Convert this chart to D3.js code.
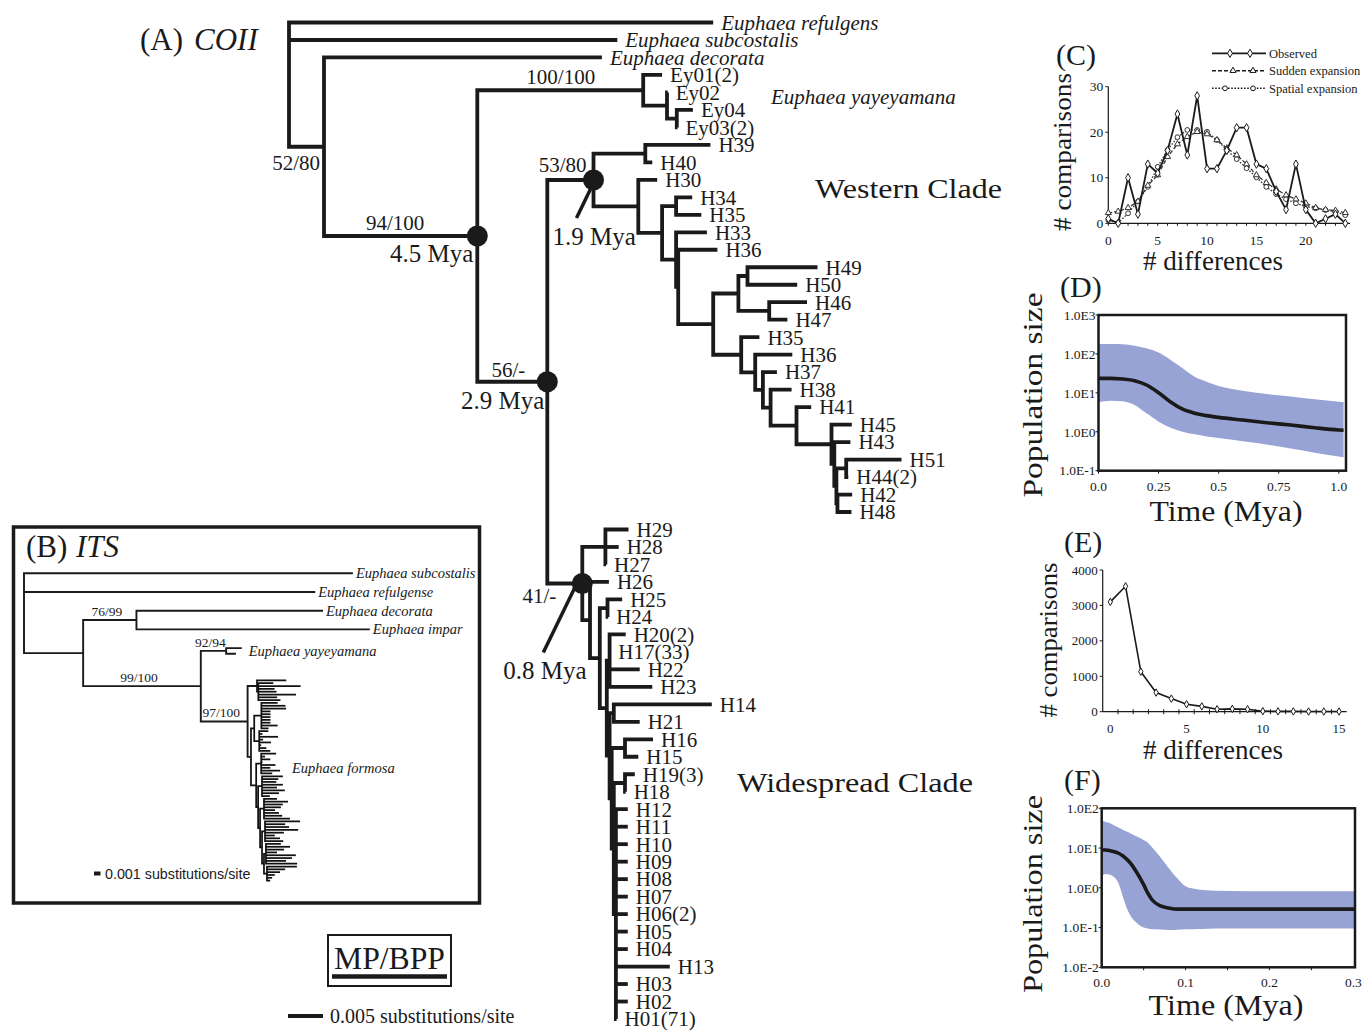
<!DOCTYPE html>
<html>
<head>
<meta charset="utf-8">
<script src="https://d3js.org/d3.v7.min.js"></script>
<style>
  body { margin: 0; background: #fff; }
  svg { display: block; font-family: "Liberation Serif", "Times New Roman", serif; }
</style>
</head>
<body>
<svg id="fig" width="1362" height="1031"></svg>
<script>
// ---------- data ----------
// (A) COII tree, branch lengths in 10^-3 substitutions/site
const coiiEy = "('Ey01(2)':2.7,(Ey02:0.1,(Ey04:2.3,'Ey03(2)':0.1):1.4):3.4)Ey:23.7";
const coiiBig = "(((H49:10.0,H50:7.1):1.3,(H46:5.4,H47:2.6):4.4):3.6,(H35:2.6,(H36:5.3,(H37:2.0,(H38:3.0,(H41:2.1,(H45:2.9,(H43:2.3,((H51:7.9,'H44(2)':0.3):1.4,(H42:2.1,H48:2.0):0.15):0.3):0.4):5.0):3.7):1.1):1.1):2.0):4.0)";
const coiiWestern = "((H39:9.3,H40:1.0):7.4,(H30:2.7,((H34:2.3,H35:3.6):2.0,(H33:4.4,(H36:5.6," + coiiBig + ":5.0):0.3):2.0):3.4):6.4)W:6.6";
const coiiWide = "((H29:3.3,H28:1.9,H27:0.1):3.3,(H26:2.7,((H25:2.1,H24:0.1):1.1,(('H20(2)':2.3,'H17(33)':0.1,H22:4.3,H23:6.1):0.4,((H14:14.0,H21:3.7):0.6,((H16:4.0,H15:1.9):1.9,(('H19(3)':1.4,H18:0.1):1.6,(H12:1.7,H11:1.7,H10:1.7,H09:1.7,H08:1.7,H07:1.7,'H06(2)':1.7,H05:1.7,H04:1.7,H13:7.7,H03:1.7,H02:1.7,'H01(71)':0.1):0.3):0.3):0.3):0.4):1.0):1.4):1.1)N0:5.0";
const coiiNewick = "(Euphaea_refulgens:60.6,Euphaea_subcostalis:46.9,(Euphaea_decorata:39.7,(" +
  coiiEy + ",(" + coiiWestern + "," + coiiWide + ")M:10.0)B:21.9)A:5.0);";
const coiiSupport = [["A", "52/80"], ["B", "94/100"], ["Ey", "100/100"], ["W", "53/80"], ["M", "56/-"], ["N0", "41/-"]];
const coiiAges = [["B", "4.5 Mya"], ["M", "2.9 Mya"], ["W", "1.9 Mya"], ["N0", "0.8 Mya"]];

// (B) ITS tree, branch lengths in 10^-3 substitutions/site
const itsFormosaGroups = [
  [4.5],
  [2.3, 6.5, 2.5, 2.8, 5.8, 2.9, 3.4],
  [2.5, 3.7, 3.8, 1.4, 1.4, 1.4, 1.4, 1.4, 2.5, 1.1],
  [1.4, 0.5, 2.9, 0.6, 1.8, 0.3, 1.1, 1.7],
  [2.3, 0.6, 1.4, 0.2, 2.2, 1.4, 2.9, 1.7],
  [3.2, 2.5, 2.2, 3.2, 2.3, 3.5, 2.6, 1.2],
  [2.0, 3.7, 2.9, 2.6, 1.7, 2.3, 2.8, 4.0],
  [5.4, 3.1, 3.7, 5.1, 2.9, 1.5, 2.3, 2.8],
  [2.3, 3.7, 2.8, 1.7, 4.6, 4.0, 3.1, 4.8],
  [4.6, 2.8, 2.0, 1.2, 0.8, 0.5]
];
const itsSupport = [["D", "76/99"], ["F", "92/94"], ["E", "99/100"], ["G", "97/100"]];

// (C) mismatch distribution, COII
const cDiff = d3.range(0, 25);
const cObserved = [1, 0, 10, 2, 13, 11, 16, 24, 15, 28, 12, 12, 16, 21, 21, 13, 12, 7, 3, 13, 3, 0, 1, 2, 0];
const cSudden = [2.3, 2.6, 3.4, 4.8, 8.3, 10.6, 14.6, 17.4, 19.0, 20.1, 19.6, 18.3, 16.5, 15.0, 13.0, 10.6, 8.9, 7.5, 6.2, 5.3, 4.4, 3.4, 3.0, 2.8, 2.3];
const cSpatial = [0.7, 0.1, 2.2, 4.8, 8.0, 12.4, 16.1, 18.9, 20.5, 20.5, 20.1, 18.3, 16.1, 14.1, 12.1, 10.1, 8.0, 6.4, 5.3, 4.4, 3.7, 3.3, 2.9, 2.6, 1.8];
const cYTicks = [0, 10, 20, 30];
const cXTicks = [0, 5, 10, 15, 20];

// (D) skyline, COII
const dTime = [0, 0.05, 0.1, 0.15, 0.2, 0.25, 0.3, 0.35, 0.4, 0.45, 0.5, 0.6, 0.7, 0.8, 0.9, 1.0, 1.02];
const dUpper = [180, 180, 176, 163, 139, 108, 70, 43, 26, 19.4, 15.0, 11.4, 9.3, 8.0, 6.8, 5.9, 5.8];
const dMedian = [23.6, 23.6, 22.6, 20.6, 15.9, 10.1, 5.8, 3.8, 3.0, 2.6, 2.34, 2.0, 1.71, 1.49, 1.27, 1.11, 1.09];
const dLower = [5.7, 6.3, 6.05, 4.86, 2.97, 1.82, 1.27, 1.0, 0.86, 0.76, 0.69, 0.57, 0.47, 0.37, 0.29, 0.23, 0.22];
const dYTicks = [1000, 100, 10, 1, 0.1];
const dYLabels = ["1.0E3", "1.0E2", "1.0E1", "1.0E0", "1.0E-1"];
const dXTicks = [0, 0.25, 0.5, 0.75, 1.0];
const dXLabels = ["0.0", "0.25", "0.5", "0.75", "1.0"];

// (E) mismatch distribution, ITS
const eDiff = d3.range(0, 16);
const eCounts = [3100, 3540, 1130, 540, 370, 210, 150, 70, 80, 70, 15, 10, 8, 5, 5, 5];
const eYTicks = [0, 1000, 2000, 3000, 4000];
const eXTicks = [0, 5, 10, 15];

// (F) skyline, ITS
const fTime = [0, 0.005, 0.01, 0.015, 0.02, 0.025, 0.03, 0.035, 0.04, 0.05, 0.055, 0.06, 0.07, 0.08, 0.09, 0.1, 0.11, 0.12, 0.15, 0.2, 0.25, 0.3, 0.302];
const fUpper = [49, 45, 42, 37, 33, 29, 26, 23, 20.5, 16, 13.5, 10.4, 5.9, 3.1, 1.75, 1.1, 0.95, 0.88, 0.83, 0.82, 0.82, 0.82, 0.82];
const fMedian = [8.9, 8.9, 8.6, 8.1, 7.4, 6.4, 5.2, 4.0, 2.8, 1.2, 0.73, 0.5, 0.35, 0.31, 0.29, 0.29, 0.29, 0.29, 0.29, 0.29, 0.29, 0.29, 0.29];
const fLower = [2.0, 2.23, 2.14, 1.84, 1.3, 0.62, 0.305, 0.188, 0.141, 0.1, 0.095, 0.09, 0.089, 0.087, 0.088, 0.09, 0.091, 0.092, 0.094, 0.094, 0.094, 0.094, 0.094];
const fYTicks = [100, 10, 1, 0.1, 0.01];
const fYLabels = ["1.0E2", "1.0E1", "1.0E0", "1.0E-1", "1.0E-2"];
const fXTicks = [0, 0.1, 0.2, 0.3];
const fXLabels = ["0.0", "0.1", "0.2", "0.3"];

// ---------- helpers ----------
const svg = d3.select('#fig');
const INK = '#1a1a1a';
const BAND = '#97a3d4';

function txt(g, x, y, s, o = {}) {
  const t = g.append('text').attr('x', x).attr('y', y).text(s)
    .attr('fill', INK).attr('font-size', o.size || 21);
  if (o.anchor) t.attr('text-anchor', o.anchor);
  if (o.dy) t.attr('dy', o.dy);
  if (o.italic) t.attr('font-style', 'italic');
  if (o.family) t.attr('font-family', o.family);
  if (o.len) t.attr('textLength', o.len).attr('lengthAdjust', 'spacingAndGlyphs');
  if (o.rot) t.attr('transform', `rotate(-90,${x},${y})`);
  return t;
}

function parseNewick(s) {
  let i = 0;
  function node() {
    const n = {};
    if (s[i] === '(') {
      i++;
      n.children = [];
      n.children.push(node());
      while (s[i] === ',') { i++; n.children.push(node()); }
      i++;
    }
    let name = '';
    if (s[i] === "'") { i++; while (s[i] !== "'") name += s[i++]; i++; }
    else while (i < s.length && !',):;'.includes(s[i])) name += s[i++];
    n.name = name;
    if (s[i] === ':') {
      i++;
      let num = '';
      while (i < s.length && !',);'.includes(s[i])) num += s[i++];
      n.length = +num;
    }
    return n;
  }
  return node();
}

function place(root, xs, leafY) {
  root.eachBefore(d => {
    d.dist = d.parent ? d.parent.dist + (d.data.length || 0) : 0;
    d.px = xs(d.dist);
  });
  let prev = null;
  root.leaves().forEach((d, i) => { d.py = leafY(d, i, prev); prev = d; });
  root.eachAfter(d => {
    if (d.children) d.py = (d.children[0].py + d.children[d.children.length - 1].py) / 2;
  });
}

function elbows(root) {
  const segs = [];
  root.each(d => {
    if (!d.children) return;
    const f = d.children[0], l = d.children[d.children.length - 1];
    segs.push({ node: d, d: `M${f.px},${f.py}H${d.px}V${l.py}H${l.px}` });
    d.children.slice(1, -1).forEach(c => segs.push({ node: d, d: `M${d.px},${c.py}H${c.px}` }));
  });
  return segs;
}

const find = (root, n) => root.descendants().find(d => d.data.name === n);

// ---------- (A) COII tree ----------
const gA = svg.append('g');
const coii = d3.hierarchy(parseNewick(coiiNewick));
const coiiX = d3.scaleLinear().domain([0, 5]).range([289, 324]);
const coiiY = d3.scaleLinear().domain([0, 57]).range([22.5, 1019]);
place(coii, coiiX, (d, i) => coiiY(i));

gA.selectAll('path.br').data(elbows(coii)).join('path')
  .attr('class', 'br').attr('d', d => d.d)
  .attr('fill', 'none').attr('stroke', INK).attr('stroke-width', 3.8)
  .attr('stroke-linejoin', 'miter');

coii.leaves().forEach(d => {
  const name = d.data.name.replace(/_/g, ' ');
  txt(gA, d.px + 8, d.py, name, { size: 21, dy: '0.35em', italic: name.startsWith('Euphaea') });
});

const supportPos = { A: ['end', -4, 23], B: ['end', -53, -6], Ey: ['end', -48, -6], W: ['end', -7, -8], M: ['end', -22, -5], N0: ['end', -26, 19] };
coiiSupport.forEach(([n, s]) => {
  const d = find(coii, n), p = supportPos[n];
  txt(gA, d.px + p[1], d.py + p[2], s, { size: 21, anchor: p[0] });
});

const agePos = { B: ['end', -4, 26], M: ['end', -3, 27], W: ['start', -41, 65], N0: ['start', -79, 95] };
const ageLeader = { W: [-2, 7, -17, 38], N0: [-5, -1, -39, 69] };
coiiAges.forEach(([n, s]) => {
  const d = find(coii, n), p = agePos[n];
  gA.append('circle').attr('cx', d.px).attr('cy', d.py).attr('r', 10.5).attr('fill', INK);
  if (ageLeader[n]) {
    const l = ageLeader[n];
    gA.append('line').attr('x1', d.px + l[0]).attr('y1', d.py + l[1])
      .attr('x2', d.px + l[2]).attr('y2', d.py + l[3])
      .attr('stroke', INK).attr('stroke-width', 3.5);
  }
  txt(gA, d.px + p[1], d.py + p[2], s, { size: 25, anchor: p[0] });
});

txt(gA, 140, 50, '(A)', { size: 31 });
txt(gA, 194, 50, 'COII', { size: 31, italic: true });
txt(gA, 771, 104, 'Euphaea yayeyamana', { size: 21, italic: true });
txt(gA, 815, 198, 'Western Clade', { size: 28, len: 187 });
txt(gA, 737, 792, 'Widespread Clade', { size: 28, len: 236 });

// MP/BPP key and scale bar
gA.append('rect').attr('x', 328).attr('y', 935).attr('width', 123).attr('height', 51)
  .attr('fill', 'none').attr('stroke', INK).attr('stroke-width', 2);
txt(gA, 334, 969, 'MP/BPP', { size: 32, len: 111 });
gA.append('line').attr('x1', 332).attr('x2', 447).attr('y1', 976.5).attr('y2', 976.5)
  .attr('stroke', INK).attr('stroke-width', 4.5);
gA.append('line').attr('x1', 288).attr('x2', 288 + coiiX(5) - coiiX(0)).attr('y1', 1016).attr('y2', 1016)
  .attr('stroke', INK).attr('stroke-width', 4);
txt(gA, 330, 1023, '0.005 substitutions/site', { size: 20 });

// ---------- (B) ITS tree ----------
const gB = svg.append('g');
gB.append('rect').attr('x', 13.5).attr('y', 527).attr('width', 466).attr('height', 376)
  .attr('fill', 'none').attr('stroke', INK).attr('stroke-width', 3.5);
txt(gB, 26, 557, '(B)', { size: 31 });
txt(gB, 76, 557, 'ITS', { size: 31, italic: true });

const grp = a => '(' + a.map(v => ':' + v).join(',') + ')';
const [t1, g1x, g1b, g2a, g3a, g4a, g5a, g5b, g6, g7] = itsFormosaGroups;
const itsFormosa = `((:${t1[0]},${grp(g1x)}:0.2):1.45,((${grp(g1b)}:1.1,${grp(g2a)}:0.77):0.5,(${grp(g3a)}:0.77,(${grp(g4a)}:0.6,(${grp(g5a)}:0.6,(${grp(g5b)}:0.46,(${grp(g6)}:0.3,${grp(g7)}:0.46):0.3):0.3):0.3):0.3):0.8):0.52)G`;
const itsNewick = "(Euphaea_subcostalis:50.6,Euphaea_refulgense:44.8,((Euphaea_decorata:28.7,Euphaea_impar:35.9)D:8.2,((:2.4,:1.5)F:3.9," +
  itsFormosa + ":7.2)E:18.1)C:9.1);";

const its = d3.hierarchy(parseNewick(itsNewick));
const itsX = d3.scaleLinear().domain([0, 1]).range([24, 30.5]);
const nG = find(its, 'G'), nF = find(its, 'F');
nG.leaves().forEach(d => d.grp = 'formosa');
nF.leaves().forEach(d => d.grp = 'yay');
nG.descendants().forEach(d => { if (d !== nG) d.fm = true; });
const gapY = (p, d) => d.grp === 'formosa' ? (p.grp === 'formosa' ? 2.82 : 26.7)
  : (d.grp === 'yay' && p.grp === 'yay' ? 5.6 : 18.7);
place(its, itsX, (d, i, p) => p ? p.py + gapY(p, d) : 573.3);

gB.selectAll('path.br').data(elbows(its)).join('path')
  .attr('class', 'br').attr('d', d => d.d)
  .attr('fill', 'none').attr('stroke', d => d.node.fm ? '#111' : INK)
  .attr('stroke-width', d => d.node.fm ? 1.75 : 1.9);

its.leaves().filter(d => d.data.name).forEach(d => {
  txt(gB, d.px + 3, d.py, d.data.name.replace(/_/g, ' '), { size: 14.5, dy: '0.35em', italic: true });
});
itsSupport.forEach(([n, s]) => {
  const d = find(its, n);
  txt(gB, (d.parent.px + d.px) / 2 - 3, d.py - 4, s, { size: 13.5, anchor: 'middle' });
});
txt(gB, d3.max(nF.leaves(), d => d.px) + 7, nF.py, 'Euphaea yayeyamana', { size: 14.5, dy: '0.35em', italic: true });
txt(gB, 292, 773, 'Euphaea formosa', { size: 14.5, italic: true });
gB.append('line').attr('x1', 94).attr('x2', 94 + itsX(1) - itsX(0)).attr('y1', 873.5).attr('y2', 873.5)
  .attr('stroke', INK).attr('stroke-width', 4);
txt(gB, 105, 873.5, '0.001 substitutions/site', { size: 14.3, dy: '0.35em', family: '"Liberation Sans", Arial, sans-serif' });

// ---------- (C) mismatch COII ----------
const gC = svg.append('g');
const cx = d3.scaleLinear().domain([0, 24]).range([1108.3, 1345.3]);
const cy = d3.scaleLinear().domain([0, 30]).range([223.3, 86.7]);
gC.append('line').attr('x1', cx(0)).attr('x2', 1350).attr('y1', cy(0)).attr('y2', cy(0)).attr('stroke', INK).attr('stroke-width', 1.2);
gC.append('line').attr('x1', cx(0)).attr('x2', cx(0)).attr('y1', cy(0)).attr('y2', cy(30)).attr('stroke', INK).attr('stroke-width', 1.2);
cYTicks.forEach(v => {
  gC.append('line').attr('x1', cx(0) - 3).attr('x2', cx(0)).attr('y1', cy(v)).attr('y2', cy(v)).attr('stroke', INK);
  txt(gC, cx(0) - 5, cy(v), v, { size: 13.5, anchor: 'end', dy: '0.35em' });
});
cDiff.forEach(v => gC.append('line').attr('x1', cx(v)).attr('x2', cx(v)).attr('y1', cy(0)).attr('y2', cy(0) + 2.5).attr('stroke', INK));
cXTicks.forEach(v => txt(gC, cx(v), 245, v, { size: 13.5, anchor: 'middle' }));

const cSeries = [
  { vals: cSpatial, dash: '1.6,1.6', w: 1.3, sym: 'circle', color: '#333' },
  { vals: cSudden, dash: '4,2', w: 1.3, sym: 'triangle', color: '#333' },
  { vals: cObserved, dash: null, w: 1.8, sym: 'diamond', color: INK }
];
const symPath = { circle: d3.symbol(d3.symbolCircle, 18)(), triangle: d3.symbol(d3.symbolTriangle, 16)(), diamond: d3.symbol(d3.symbolDiamond, 20)() };
cSeries.forEach(s => {
  gC.append('path').datum(s.vals)
    .attr('d', d3.line().x((v, i) => cx(cDiff[i])).y(v => cy(v)))
    .attr('fill', 'none').attr('stroke', s.color).attr('stroke-width', s.w)
    .attr('stroke-dasharray', s.dash);
  gC.selectAll(null).data(s.vals).join('path')
    .attr('d', symPath[s.sym])
    .attr('transform', (v, i) => `translate(${cx(cDiff[i])},${cy(v)})`)
    .attr('fill', '#fff').attr('stroke', s.color).attr('stroke-width', 1);
});
const cLegend = [
  { label: 'Observed', y: 53.3, dash: null, w: 1.8, sym: 'diamond', at: [1230, 1250] },
  { label: 'Sudden expansion', y: 70.7, dash: '4,2', w: 1.5, sym: 'triangle', at: [1233, 1253] },
  { label: 'Spatial expansion', y: 88.3, dash: '1.6,1.6', w: 1.5, sym: 'circle', at: [1225, 1253] }
];
cLegend.forEach(l => {
  gC.append('line').attr('x1', 1212).attr('x2', 1266).attr('y1', l.y).attr('y2', l.y)
    .attr('stroke', INK).attr('stroke-width', l.w).attr('stroke-dasharray', l.dash);
  l.at.forEach(x => gC.append('path').attr('d', symPath[l.sym]).attr('transform', `translate(${x},${l.y})`)
    .attr('fill', '#fff').attr('stroke', INK).attr('stroke-width', 1));
  txt(gC, 1269, l.y, l.label, { size: 12.5, dy: '0.35em' });
});
txt(gC, 1056, 65, '(C)', { size: 30 });
txt(gC, 1071, 152, '# comparisons', { size: 25, anchor: 'middle', rot: true, len: 158 });
txt(gC, 1213, 270, '# differences', { size: 27, anchor: 'middle', len: 140 });

// ---------- skyline plots (D, F) ----------
function skyline(g, o) {
  const x = d3.scaleLinear().domain(o.xDom).range([o.left, o.right]);
  const y = d3.scaleLog().domain(o.yDom).range([o.bottom, o.top]);
  g.append('path').datum(o.time)
    .attr('d', d3.area().curve(d3.curveMonotoneX)
      .x(t => x(t)).y0((t, i) => y(o.lower[i])).y1((t, i) => y(o.upper[i])))
    .attr('fill', BAND);
  g.append('path').datum(o.time)
    .attr('d', d3.line().curve(d3.curveMonotoneX).x(t => x(t)).y((t, i) => y(o.median[i])))
    .attr('fill', 'none').attr('stroke', INK).attr('stroke-width', 3.6);
  g.append('rect').attr('x', o.left).attr('y', o.top).attr('width', o.right - o.left).attr('height', o.bottom - o.top)
    .attr('fill', 'none').attr('stroke', INK).attr('stroke-width', 2.5);
  o.yTicks.forEach((v, i) => {
    g.append('line').attr('x1', o.left - 3).attr('x2', o.left).attr('y1', y(v)).attr('y2', y(v)).attr('stroke', INK);
    txt(g, o.left - 3, y(v), o.yLabels[i], { size: 13.5, anchor: 'end', dy: '0.35em' });
  });
  o.xMinor.forEach(v => g.append('line').attr('x1', x(v)).attr('x2', x(v)).attr('y1', o.bottom).attr('y2', o.bottom + 3).attr('stroke', INK));
  o.xTicks.forEach((v, i) => txt(g, x(v), o.bottom + 20, o.xLabels[i], { size: 13.5, anchor: 'middle' }));
}

const gD = svg.append('g');
skyline(gD, { time: dTime, upper: dUpper, median: dMedian, lower: dLower,
  xDom: [0, 1.03], yDom: [0.1, 1000], left: 1098.5, right: 1346, top: 315, bottom: 470.7,
  yTicks: dYTicks, yLabels: dYLabels, xTicks: dXTicks, xLabels: dXLabels, xMinor: dXTicks });
txt(gD, 1060, 297, '(D)', { size: 30 });
txt(gD, 1042, 395, 'Population size', { size: 28, anchor: 'middle', rot: true, len: 205 });
txt(gD, 1226, 521, 'Time (Mya)', { size: 29, anchor: 'middle', len: 153 });

const gF = svg.append('g');
skyline(gF, { time: fTime, upper: fUpper, median: fMedian, lower: fLower,
  xDom: [0, 0.302], yDom: [0.01, 100], left: 1101.7, right: 1355, top: 808.3, bottom: 967.3,
  yTicks: fYTicks, yLabels: fYLabels, xTicks: fXTicks, xLabels: fXLabels, xMinor: d3.range(0.05, 0.3, 0.05) });
txt(gF, 1064, 790, '(F)', { size: 30 });
txt(gF, 1042, 894, 'Population size', { size: 28, anchor: 'middle', rot: true, len: 198 });
txt(gF, 1226, 1015, 'Time (Mya)', { size: 29, anchor: 'middle', len: 155 });

// ---------- (E) mismatch ITS ----------
const gE = svg.append('g');
const ex = d3.scaleLinear().domain([-0.5, 15.5]).range([1102.7, 1346.7]);
const ey = d3.scaleLinear().domain([0, 4000]).range([711.7, 570]);
gE.append('line').attr('x1', ex(-0.5)).attr('x2', ex(15.5)).attr('y1', ey(0)).attr('y2', ey(0)).attr('stroke', INK).attr('stroke-width', 1.2);
gE.append('line').attr('x1', ex(-0.5)).attr('x2', ex(-0.5)).attr('y1', ey(0)).attr('y2', ey(4000)).attr('stroke', INK).attr('stroke-width', 1.2);
eYTicks.forEach(v => {
  gE.append('line').attr('x1', ex(-0.5) - 3).attr('x2', ex(-0.5)).attr('y1', ey(v)).attr('y2', ey(v)).attr('stroke', INK);
  txt(gE, ex(-0.5) - 5, ey(v), v, { size: 13, anchor: 'end', dy: '0.35em' });
});
d3.range(0.5, 15.5, 1).forEach(v => gE.append('line').attr('x1', ex(v)).attr('x2', ex(v))
  .attr('y1', ey(0) - 2.5).attr('y2', ey(0) + 2.5).attr('stroke', INK));
eXTicks.forEach(v => txt(gE, ex(v), 733, v, { size: 13, anchor: 'middle' }));
gE.append('path').datum(eCounts)
  .attr('d', d3.line().x((v, i) => ex(eDiff[i])).y(v => ey(v)))
  .attr('fill', 'none').attr('stroke', INK).attr('stroke-width', 1.6);
gE.selectAll(null).data(eCounts).join('path')
  .attr('d', d3.symbol(d3.symbolDiamond, 16)())
  .attr('transform', (v, i) => `translate(${ex(eDiff[i])},${ey(v)})`)
  .attr('fill', '#fff').attr('stroke', INK).attr('stroke-width', 1);
txt(gE, 1064, 552, '(E)', { size: 30 });
txt(gE, 1057, 640, '# comparisons', { size: 25, anchor: 'middle', rot: true, len: 155 });
txt(gE, 1213, 759, '# differences', { size: 27, anchor: 'middle', len: 140 });
</script>
</body>
</html>
